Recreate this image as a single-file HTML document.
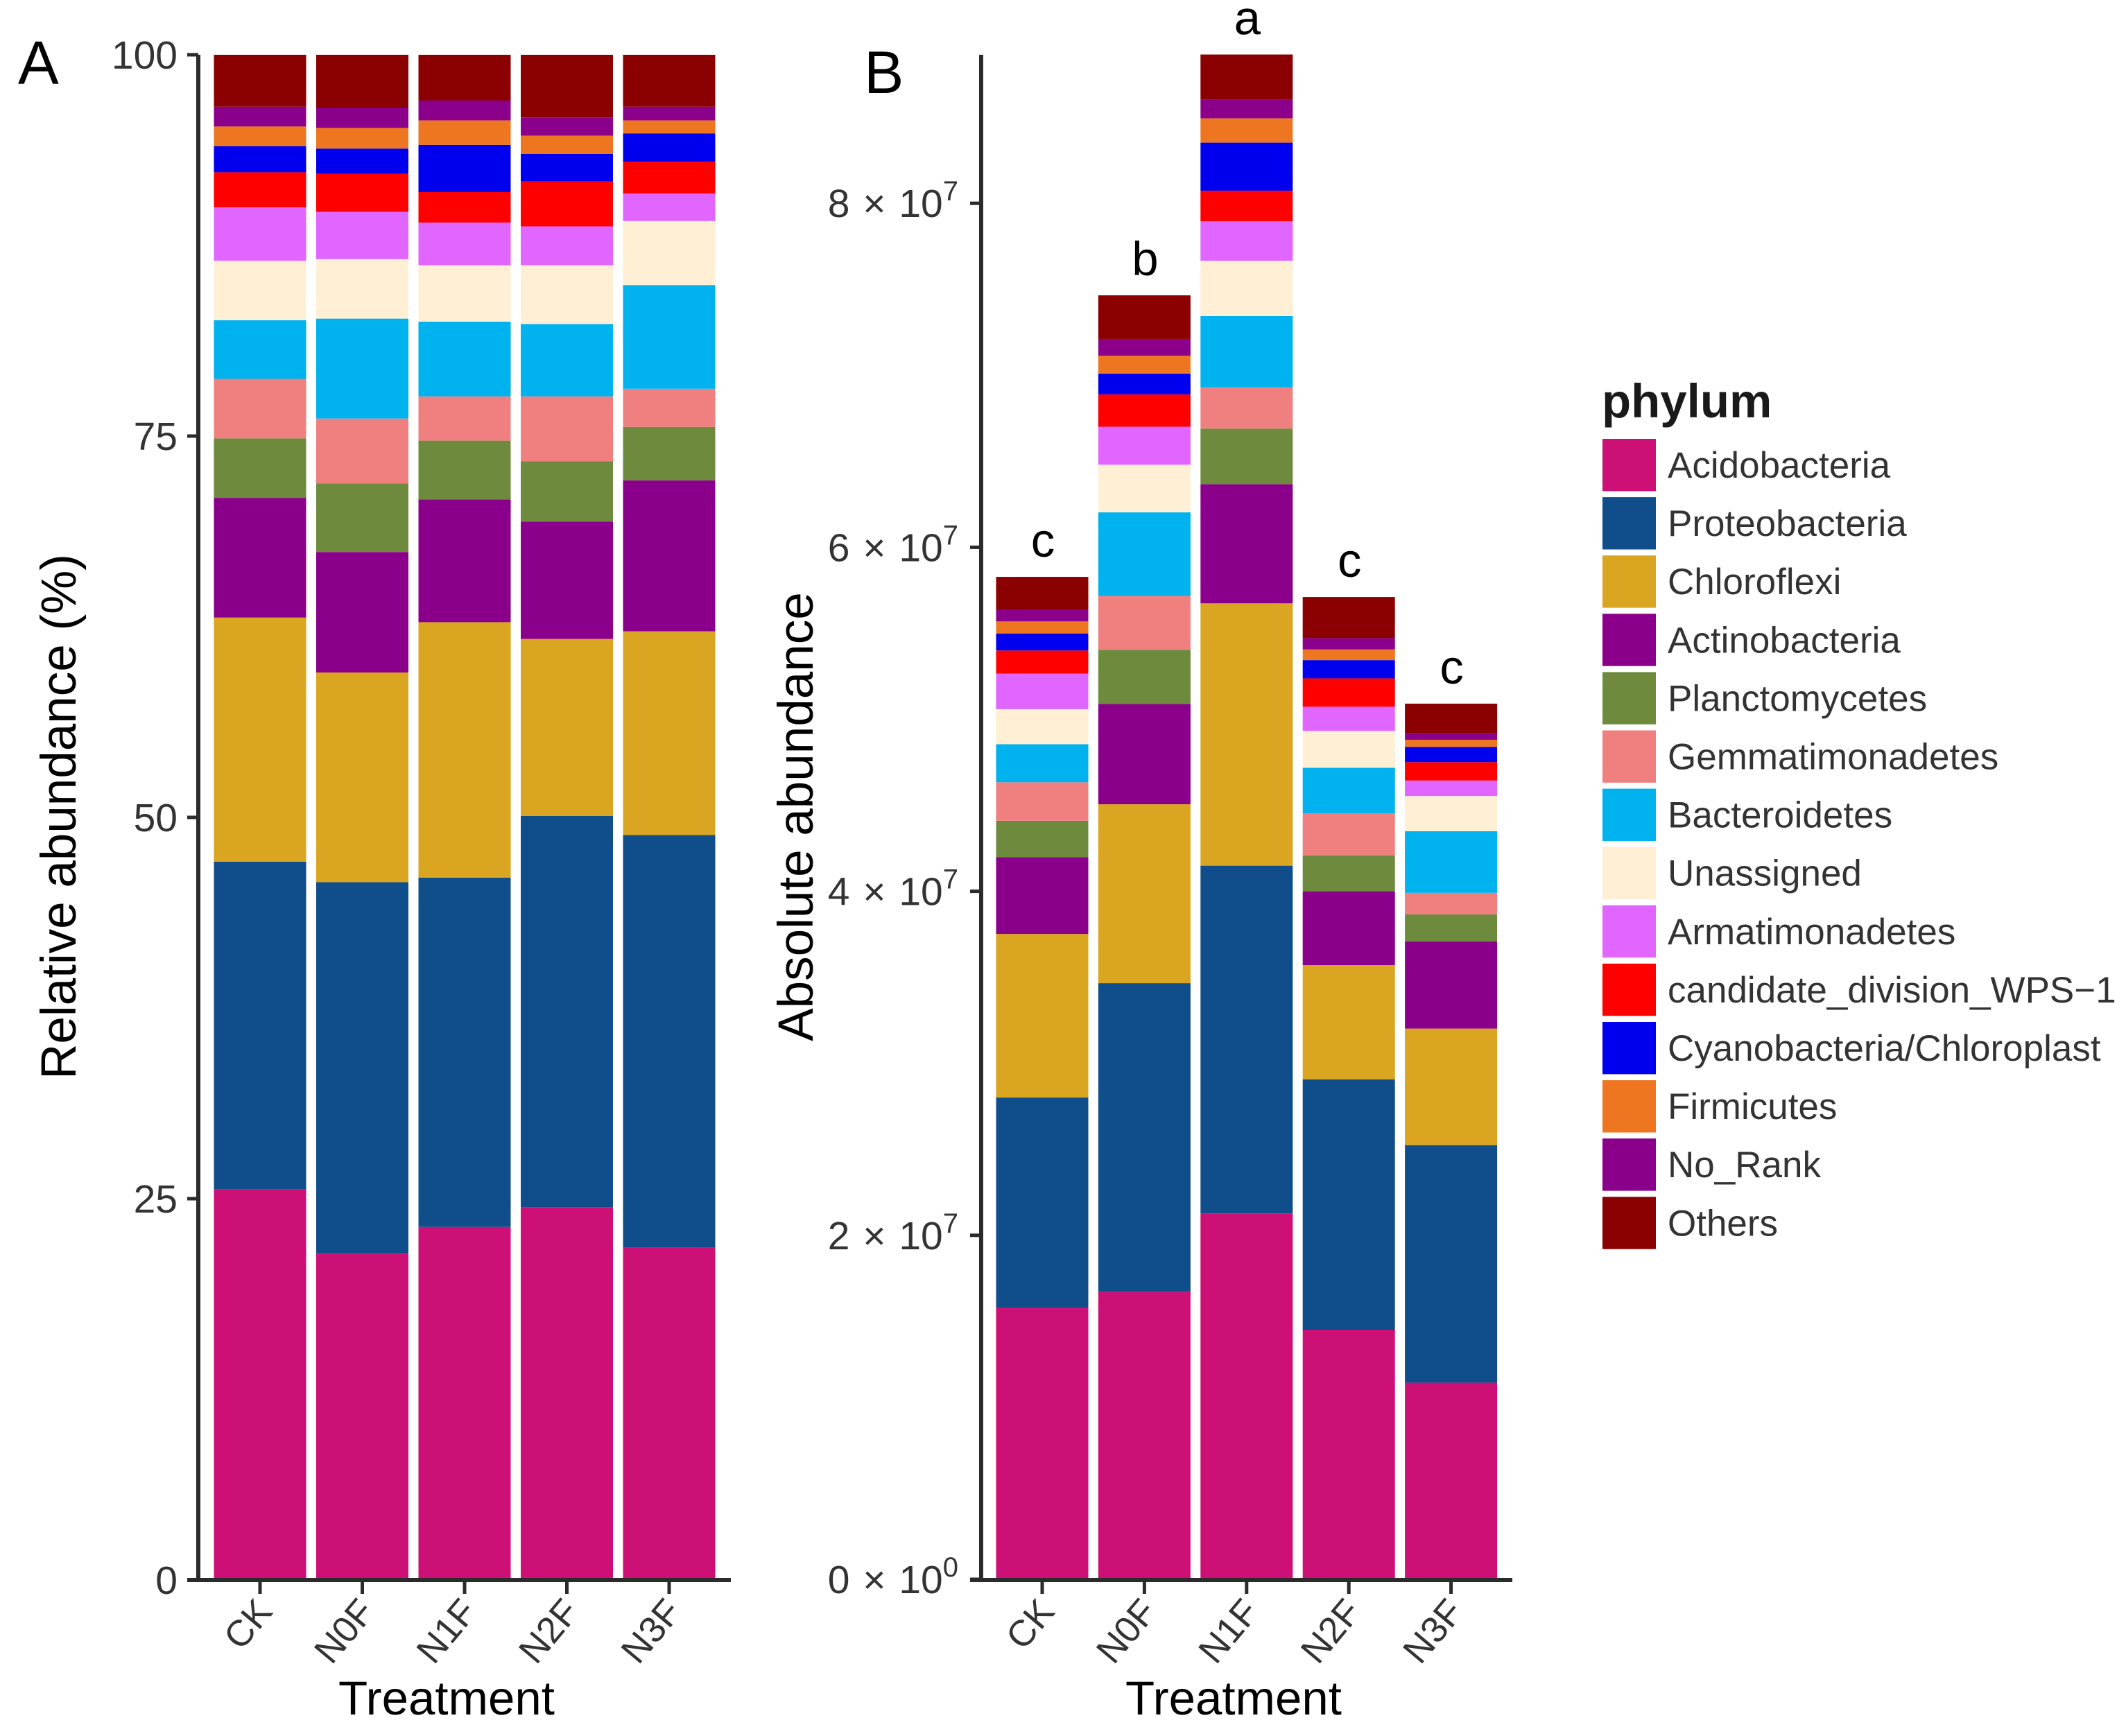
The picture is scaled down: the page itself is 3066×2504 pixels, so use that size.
<!DOCTYPE html>
<html lang="en">
<head>
<meta charset="utf-8">
<title>Relative and absolute abundance by phylum</title>
<style>
html,body{margin:0;padding:0;background:#fff;}
svg{display:block;font-family:"Liberation Sans",Arial,sans-serif;}
</style>
</head>
<body>
<svg id="figure" xmlns="http://www.w3.org/2000/svg" width="3066" height="2504" viewBox="0 0 3066 2504">
<rect x="0" y="0" width="3066" height="2504" fill="#ffffff"/>
</svg>
<script>
const categories = ["CK", "N0F", "N1F", "N2F", "N3F"];
const phyla = ["Acidobacteria", "Proteobacteria", "Chloroflexi", "Actinobacteria", "Planctomycetes", "Gemmatimonadetes", "Bacteroidetes", "Unassigned", "Armatimonadetes", "candidate_division_WPS\u22121", "Cyanobacteria/Chloroplast", "Firmicutes", "No_Rank", "Others"];
const palette = ["#CD1076", "#104E8B", "#DAA520", "#8B008B", "#6E8B3D", "#F08080", "#00B2EE", "#FFEFD5", "#E066FF", "#FF0000", "#0000EE", "#EE7621", "#8B008B", "#8B0000"];

const relCK  = [25.6, 21.5, 16.0, 7.85, 3.9, 3.9, 3.85, 3.9, 3.5, 2.3, 1.7, 1.3, 1.3, 3.4];
const relN0F = [21.4, 24.35, 13.75, 7.9, 4.5, 4.25, 6.55, 3.9, 3.1, 2.5, 1.65, 1.35, 1.3, 3.5];
const relN1F = [23.15, 22.9, 16.75, 8.05, 3.85, 2.9, 4.9, 3.7, 2.8, 2.0, 3.1, 1.6, 1.3, 3.0];
const relN2F = [24.45, 25.65, 11.6, 7.7, 3.95, 4.25, 4.75, 3.85, 2.55, 2.95, 1.8, 1.2, 1.2, 4.1];
const relN3F = [21.8, 27.05, 13.35, 9.9, 3.5, 2.5, 6.8, 4.2, 1.8, 2.1, 1.85, 0.85, 0.9, 3.4];

const absCK  = [1.58e7, 1.221e7, 0.951e7, 0.447e7, 0.211e7, 0.224e7, 0.221e7, 0.204e7, 0.207e7, 0.134e7, 0.099e7, 0.07e7, 0.068e7, 0.191e7];
const absN0F = [1.672e7, 1.794e7, 1.04e7, 0.583e7, 0.315e7, 0.313e7, 0.486e7, 0.277e7, 0.221e7, 0.188e7, 0.121e7, 0.104e7, 0.097e7, 0.254e7];
const absN1F = [2.127e7, 2.022e7, 1.525e7, 0.693e7, 0.323e7, 0.24e7, 0.414e7, 0.322e7, 0.229e7, 0.178e7, 0.28e7, 0.141e7, 0.108e7, 0.263e7];
const absN2F = [1.451e7, 1.455e7, 0.665e7, 0.429e7, 0.209e7, 0.245e7, 0.264e7, 0.215e7, 0.14e7, 0.165e7, 0.106e7, 0.062e7, 0.066e7, 0.239e7];
const absN3F = [1.143e7, 1.381e7, 0.678e7, 0.506e7, 0.158e7, 0.125e7, 0.358e7, 0.205e7, 0.09e7, 0.107e7, 0.088e7, 0.042e7, 0.038e7, 0.172e7];

const relTickValues = [0, 25, 50, 75, 100];
const relTickLabels = ["0", "25", "50", "75", "100"];
const absTickValues = [0, 2e7, 4e7, 6e7, 8e7];
const absTickMantissas = ["0", "2", "4", "6", "8"];
const absTickExponents = ["0", "7", "7", "7", "7"];
const significanceLetters = ["c", "b", "a", "c", "c"];

const relSeries = [relCK, relN0F, relN1F, relN2F, relN3F];
const absSeries = [absCK, absN0F, absN1F, absN2F, absN3F];

const svg = document.getElementById("figure");
const NS = "http://www.w3.org/2000/svg";
const AXIS_COLOR = "#2b2b2b";
const TICK_TEXT = "#333333";

function make(parent, tag, attrs, text) {
  const node = document.createElementNS(NS, tag);
  for (const key in attrs) node.setAttribute(key, attrs[key]);
  if (text !== undefined) node.textContent = text;
  parent.appendChild(node);
  return node;
}

/* axis functions */
function yRel(v) { return 2279 - 22 * v; }
function yAbs(v) { return 2278 - 248.1 * (v / 1e7); }
function xA(i) { return 375 + 147.5 * i; }
function xB(i) { return 1503 + 147.4 * i; }
const BAR_W = 133;

function drawBars(panel, series, xFn, yFn) {
  const group = make(svg, "g", {});
  
  
  series.forEach(function (values, c) {
    let running = 0;
    values.forEach(function (v, p) {
      const y0 = yFn(running);
      running += v;
      const y1 = yFn(running);
      const r = make(group, "rect", {
        x: xFn(c) - BAR_W / 2,
        y: y1,
        width: BAR_W,
        height: y0 - y1,
        fill: palette[p]
      });
      
      
    });
  });
}

function drawAxisFrame(panel, xLine, xEnd, yTop, yBottom) {
  const v = make(svg, "line", { x1: xLine, x2: xLine, y1: yTop, y2: yBottom, stroke: AXIS_COLOR, "stroke-width": 6 });
  
  
  const h = make(svg, "line", { x1: xLine - 16, x2: xEnd, y1: yBottom, y2: yBottom, stroke: AXIS_COLOR, "stroke-width": 6 });
  
  
}

function drawXAxis(panel, xFn, yBottom, titleX) {
  categories.forEach(function (cat, i) {
    const cx = xFn(i);
    const t = make(svg, "line", { x1: cx, x2: cx, y1: yBottom, y2: yBottom + 20, stroke: AXIS_COLOR, "stroke-width": 5 });
    
    
    const ax = cx + 20;
    const ay = 2326;
    const label = make(svg, "text", {
      x: ax, y: ay,
      "text-anchor": "end",
      "font-size": 53,
      fill: TICK_TEXT,
      transform: "rotate(-50 " + ax + " " + ay + ")"
    }, cat);
    
    
  });
  const title = make(svg, "text", { x: titleX, y: 2473, "text-anchor": "middle", "font-size": 69, fill: "#000" }, "Treatment");
  
  
}

/* Panel A */
drawBars("relative", relSeries, xA, yRel);
drawAxisFrame("relative", 286, 1054, 79, 2279);
relTickValues.forEach(function (v, i) {
  const y = yRel(v);
  const t = make(svg, "line", { x1: 270, x2: 286, y1: y, y2: y, stroke: AXIS_COLOR, "stroke-width": 5 });
  
  
  const label = make(svg, "text", { x: 256, y: y + 20, "text-anchor": "end", "font-size": 57, fill: TICK_TEXT }, relTickLabels[i]);
  
  
});
drawXAxis("relative", xA, 2279, 644);

/* Panel B */
drawBars("absolute", absSeries, xB, yAbs);
drawAxisFrame("absolute", 1415, 2181, 79, 2279);
absTickValues.forEach(function (v, i) {
  const y = yAbs(v);
  const t = make(svg, "line", { x1: 1399, x2: 1415, y1: y, y2: y, stroke: AXIS_COLOR, "stroke-width": 5 });
  
  
  const label = make(svg, "text", { x: 1382, y: y + 20, "text-anchor": "end", "font-size": 57, "word-spacing": 3, fill: TICK_TEXT });
  
  
  make(label, "tspan", {}, absTickMantissas[i] + " \u00D7 10");
  make(label, "tspan", { "font-size": 40, dy: -24 }, absTickExponents[i]);
});
drawXAxis("absolute", xB, 2279, 1779);

significanceLetters.forEach(function (letter, i) {
  const total = absSeries[i].reduce(function (a, b) { return a + b; }, 0);
  const t = make(svg, "text", {
    x: xB(i) + 1,
    y: yAbs(total) - 29,
    "text-anchor": "middle",
    "font-size": 69,
    fill: "#000"
  }, letter);
  
  
});

/* Legend */
phyla.forEach(function (name, i) {
  const top = 633 + 84.1 * i;
  const s = make(svg, "rect", { x: 2311, y: top, width: 77, height: 75.4, fill: palette[i] });
  
  
  const t = make(svg, "text", { x: 2405, y: top + 56, "font-size": 53, fill: "#333333" }, name);
  
  
});
</script>
<script>
(function () {
  const svgEl = document.getElementById("figure");
  const ns = "http://www.w3.org/2000/svg";
  function addText(name, text, attrs) {
    const t = document.createElementNS(ns, "text");
    for (const k in attrs) t.setAttribute(k, attrs[k]);
    t.textContent = text;
    
    
    svgEl.appendChild(t);
  }
  addText("panel-label-a", "A", { x: 26, y: 121, "font-size": 88, fill: "#000" });
  addText("panel-label-b", "B", { x: 1246, y: 134, "font-size": 86, fill: "#000" });
  addText("relative-y-axis-title", "Relative abundance (%)", { x: 109, y: 1178, "text-anchor": "middle", "font-size": 71, fill: "#000", transform: "rotate(-90 109 1178)" });
  addText("absolute-y-axis-title", "Absolute abundance", { x: 1172, y: 1178, "text-anchor": "middle", "font-size": 71, fill: "#000", transform: "rotate(-90 1172 1178)" });
  addText("legend-title", "phylum", { x: 2310, y: 602, "font-size": 69, "font-weight": "bold", fill: "#1a1a1a" });
})();
</script>
</body>
</html>
